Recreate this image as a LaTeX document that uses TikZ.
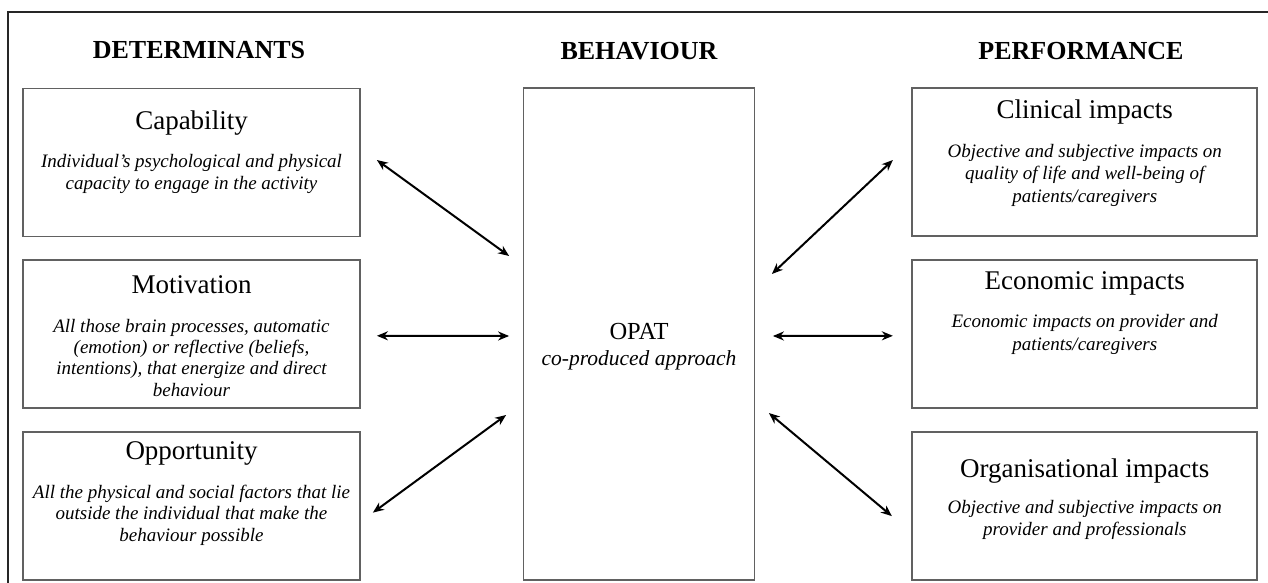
\documentclass[tikz,border=0pt]{standalone}
\usepackage{fontspec}
\setmainfont{Liberation Serif}
\usetikzlibrary{arrows.meta, positioning}

\tikzset{
  box/.style={draw=black!62, line width=1.8pt, inner sep=0pt},
  lbox/.style={box, minimum width=337pt, minimum height=148pt},
  rbox/.style={box, minimum width=345pt, minimum height=148pt},
  head/.style={font=\fontsize{26}{30}\selectfont\bfseries, anchor=base},
  ttl/.style={font=\fontsize{27}{32}\selectfont, anchor=base},
  desc/.style={font=\fontsize{19}{22}\selectfont\itshape, align=center, anchor=north, inner sep=0pt},
  link/.style={{Stealth[length=11pt,width=9pt]}-{Stealth[length=11pt,width=9pt]}, line width=2pt}
}

\begin{document}
\begin{tikzpicture}[x=1pt, y=-1pt]
  % Frame
  \useasboundingbox (0,0) rectangle (1268,583);
  \clip (0,0) rectangle (1268,583);
  \draw[line width=1.6pt, black!85] (8,600) -- (8,12) -- (1290,12);

  % Headings
  \node[head] (hdet) at (199,59) {DETERMINANTS};
  \node[head] (hbeh) at (639,60) {BEHAVIOUR};
  \node[head] (hperf) at (1081,60) {PERFORMANCE};

  % Determinants
  \node[lbox] (cap) at (191.5,162.5) {};
  \node[lbox, below=21.5pt of cap] (mot) {};
  \node[lbox, below=22.5pt of mot] (opp) {};
  \node[ttl] (capT) at (191.5,130) {Capability};
  \node[desc] (capD) at (191.5,154) {Individual's psychological and physical\\capacity to engage in the activity};
  \node[ttl] (motT) at (191.5,293) {Motivation};
  \node[desc, font=\fontsize{19}{21.3}\selectfont\itshape] (motD) at (191.5,319)
    {All those brain processes, automatic\\(emotion) or reflective (beliefs,\\intentions), that energize and direct\\behaviour};
  \node[ttl] (oppT) at (191.5,459) {Opportunity};
  \node[desc, font=\fontsize{19}{21.3}\selectfont\itshape] (oppD) at (191.5,485)
    {All the physical and social factors that lie\\outside the individual that make the\\behaviour possible};

  % Behaviour
  \node[box, minimum width=231pt, minimum height=492pt] (opat) at (639,334) {};
  \node[font=\fontsize{24.5}{28}\selectfont, anchor=base] (opatT) at (639,339) {OPAT};
  \node[font=\fontsize{21.5}{25}\selectfont\itshape, anchor=base] (opatD) at (639,365) {co-produced approach};

  % Performance
  \node[rbox] (clin) at (1084.75,162) {};
  \node[rbox, below=22pt of clin] (econ) {};
  \node[rbox, below=22.5pt of econ] (org) {};
  \node[ttl] (clinT) at (1084.75,118) {Clinical impacts};
  \node[desc, font=\fontsize{19}{22.5}\selectfont\itshape] (clinD) at (1084.75,144)
    {Objective and subjective impacts on\\quality of life and well-being of\\patients/caregivers};
  \node[ttl] (econT) at (1084.75,289) {Economic impacts};
  \node[desc, font=\fontsize{19}{22.7}\selectfont\itshape] (econD) at (1084.75,314)
    {Economic impacts on provider and\\patients/caregivers};
  \node[ttl] (orgT) at (1084.75,477) {Organisational impacts};
  \node[desc] (orgD) at (1084.75,500) {Objective and subjective impacts on\\provider and professionals};

  % Arrow ends
  \coordinate (capA) at ([shift={(16,-2.5)}]cap.east);
  \coordinate (capB) at ([shift={(-13.5,-78)}]opat.west);
  \coordinate (motA) at ([shift={(16,2)}]mot.east);
  \coordinate (motB) at ([shift={(-13.5,2)}]opat.west);
  \coordinate (oppA) at ([shift={(12,6.5)}]opp.east);
  \coordinate (oppB) at ([shift={(-16.5,81)}]opat.west);
  \coordinate (clinA) at ([shift={(16.5,-60)}]opat.east);
  \coordinate (clinB) at ([shift={(-18.5,-2)}]clin.west);
  \coordinate (econA) at ([shift={(17.5,2)}]opat.east);
  \coordinate (econB) at ([shift={(-18.5,2)}]econ.west);
  \coordinate (orgA) at ([shift={(13.5,79)}]opat.east);
  \coordinate (orgB) at ([shift={(-19.5,10)}]org.west);

  % Links
  \draw[link] (capA) -- (capB);
  \draw[link] (motA) -- (motB);
  \draw[link] (oppA) -- (oppB);
  \draw[link] (clinA) -- (clinB);
  \draw[link] (econA) -- (econB);
  \draw[link] (orgA) -- (orgB);
\end{tikzpicture}
\end{document}
